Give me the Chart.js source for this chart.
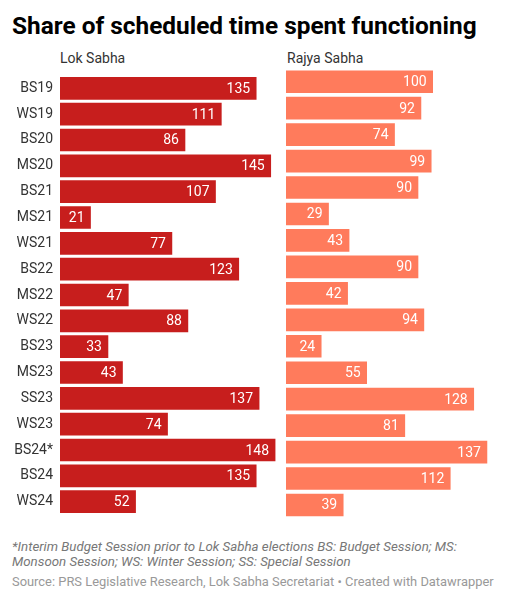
<!DOCTYPE html>
<html>
<head>
<meta charset="utf-8">
<script src="https://cdn.jsdelivr.net/npm/chart.js@4"></script>
<style>
  html, body { margin: 0; padding: 0; background: #fff; }
  body { width: 518px; height: 600px; position: relative; overflow: hidden; font-family: Roboto, "Noto Sans", sans-serif; }
  #title { position: absolute; left: 12px; top: 11px; font-size: 24.4px; font-weight: 700; color: #000; white-space: nowrap; }
  .hdr { position: absolute; top: 49.5px; font-size: 14px; color: #333; white-space: nowrap; }
  #note { position: absolute; left: 12px; top: 539px; font-size: 13.3px; font-style: italic; color: #777; line-height: 15px; white-space: nowrap; }
  #source { position: absolute; left: 12px; top: 574px; font-size: 12.9px; color: #999; white-space: nowrap; }
  .cv { position: absolute; top: 60px; }
</style>
</head>
<body>
<div id="title">Share of scheduled time spent functioning</div>
<div class="hdr" style="left:60px">Lok Sabha</div>
<div class="hdr" style="left:287px">Rajya Sabha</div>
<div class="cv" style="left:0px;width:285px;height:470px"><canvas id="left"></canvas></div>
<div class="cv" style="left:280px;width:238px;height:470px"><canvas id="right"></canvas></div>
<div id="note">*Interim Budget Session prior to Lok Sabha elections BS: Budget Session; MS:<br>Monsoon Session; WS: Winter Session; SS: Special Session</div>
<div id="source">Source: PRS Legislative Research, Lok Sabha Secretariat • Created with Datawrapper</div>
<script>
const sessions = ["BS19","WS19","BS20","MS20","BS21","MS21","WS21","BS22","MS22","WS22","BS23","MS23","SS23","WS23","BS24*","BS24","WS24"];
const lokSabha = [135,111,86,145,107,21,77,123,47,88,33,43,137,74,148,135,52];
const rajyaSabha = [100,92,74,99,90,29,43,90,42,94,24,55,128,81,137,112,39];

const valueLabels = {
  id: 'valueLabels',
  afterDatasetsDraw(chart) {
    const ctx = chart.ctx;
    const meta = chart.getDatasetMeta(0);
    const data = chart.data.datasets[0].data;
    ctx.save();
    ctx.font = '14px Roboto, "Noto Sans", sans-serif';
    ctx.fillStyle = '#ffffff';
    ctx.textAlign = 'right';
    ctx.textBaseline = 'middle';
    meta.data.forEach((bar, i) => {
      ctx.fillText(String(data[i]), bar.x - 6, bar.y + 1);
    });
    ctx.restore();
  }
};

function makeChart(id, values, color, showY, padding) {
  return new Chart(document.getElementById(id), {
    type: 'bar',
    data: {
      labels: sessions,
      datasets: [{ data: values, backgroundColor: color, borderWidth: 0, barThickness: 22 }]
    },
    options: {
      indexAxis: 'y',
      responsive: true,
      maintainAspectRatio: false,
      animation: false,
      devicePixelRatio: 1,
      layout: { padding: padding },
      plugins: { legend: { display: false }, tooltip: { enabled: false } },
      scales: {
        x: { display: false, min: 0, max: 150 },
        y: {
          display: showY,
          grid: { display: false, drawTicks: false },
          border: { display: false },
          ticks: { color: '#333', font: { family: 'Roboto', size: 14 }, padding: 7 },
          afterFit(scale) { if (showY) scale.width = 60; }
        }
      }
    },
    plugins: [valueLabels]
  });
}

makeChart('left', lokSabha, '#c71e1d', true, { top: 8.5, bottom: 11.8, left: 0, right: 7 });
makeChart('right', rajyaSabha, '#ff7b5c', false, { top: 8.5, bottom: 11.8, left: 6, right: 12 });
</script>
</body>
</html>
